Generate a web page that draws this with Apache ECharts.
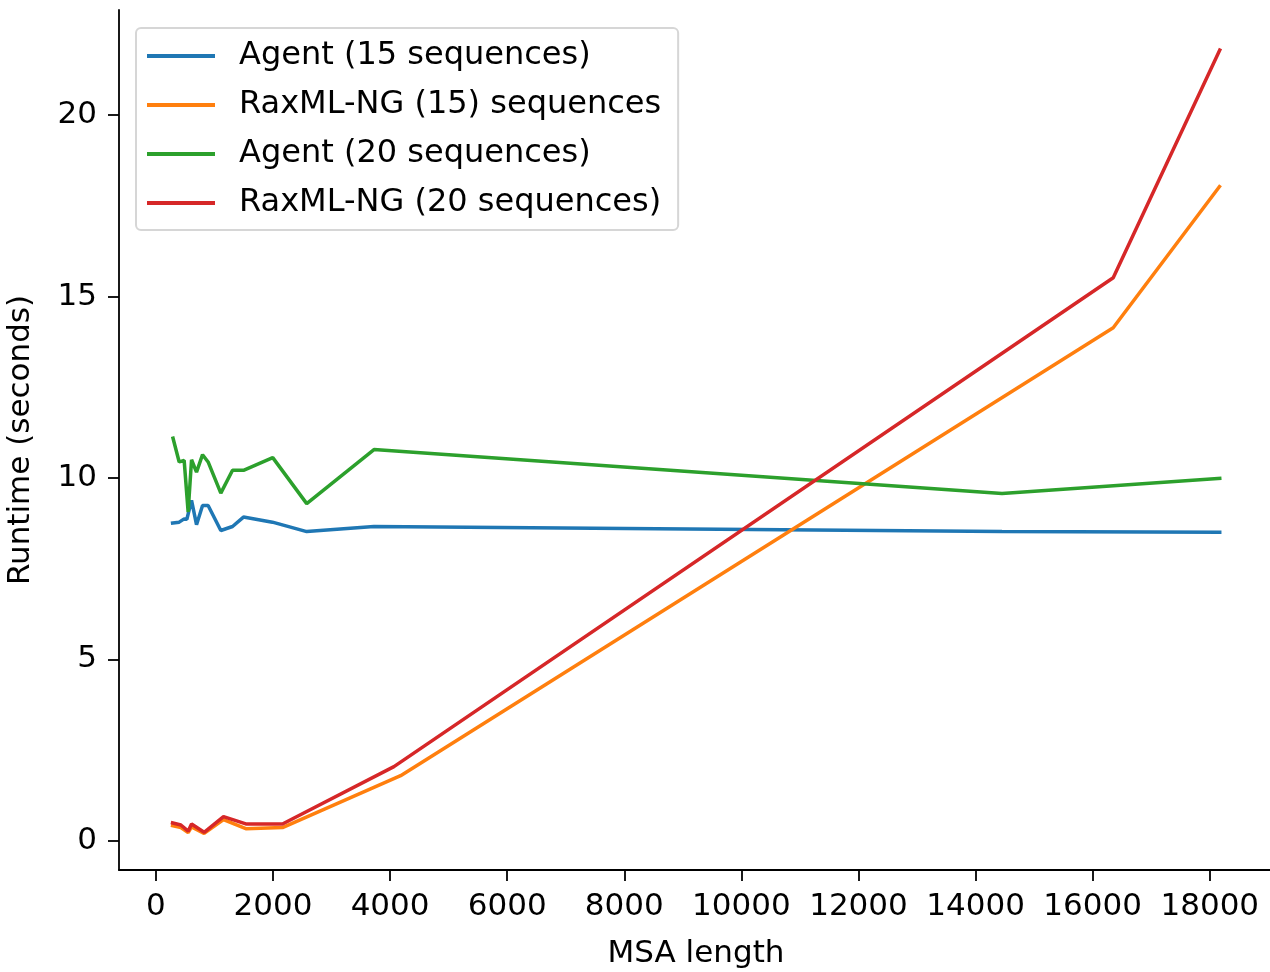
<!DOCTYPE html>
<html>
<head>
<meta charset="utf-8">
<script src="https://cdn.jsdelivr.net/npm/echarts@6/dist/echarts.min.js"></script>
<style>
  html, body { margin: 0; padding: 0; background: #fff; }
  #chart { width: 1270px; height: 972px; }
</style>
</head>
<body>
<div id="chart"></div>
<script>
// MSA length values (x) and runtimes (y)
var agent15X = [256, 398, 483, 529, 609, 694, 797, 892, 1109, 1309, 1496, 1991, 2576, 3725, 14452, 18200];
var agent15Y = [8.75, 8.78, 8.87, 8.86, 9.38, 8.71, 9.24, 9.24, 8.55, 8.66, 8.92, 8.78, 8.52, 8.66, 8.52, 8.50];

var rax15X = [256, 427, 551, 609, 824, 1155, 1536, 2162, 4180, 16351, 18183];
var rax15Y = [0.42, 0.36, 0.22, 0.38, 0.20, 0.58, 0.33, 0.36, 1.79, 14.14, 18.07];

var agent20X = [285, 398, 483, 551, 609, 694, 797, 892, 1109, 1309, 1496, 1996, 2576, 3725, 14452, 18200];
var agent20Y = [11.14, 10.44, 10.48, 9.06, 10.50, 10.16, 10.64, 10.44, 9.58, 10.21, 10.21, 10.56, 9.29, 10.78, 9.57, 9.99];

var rax20X = [256, 427, 551, 609, 824, 1155, 1536, 2162, 4066, 16351, 18183];
var rax20Y = [0.50, 0.43, 0.26, 0.46, 0.23, 0.66, 0.46, 0.46, 2.04, 15.52, 21.84];

var seriesNames = ['Agent (15 sequences)', 'RaxML-NG (15) sequences', 'Agent (20 sequences)', 'RaxML-NG (20 sequences)'];
var xTicks = [0, 2000, 4000, 6000, 8000, 10000, 12000, 14000, 16000, 18000];
var yTicks = [0, 5, 10, 15, 20];

function pairs(xs, ys) {
  return xs.map(function (x, i) { return [x, ys[i]]; });
}

var font = 'DejaVu Sans';
var colors = ['#1f77b4', '#ff7f0e', '#2ca02c', '#d62728'];
var data = [pairs(agent15X, agent15Y), pairs(rax15X, rax15Y), pairs(agent20X, agent20Y), pairs(rax20X, rax20Y)];

var chart = echarts.init(document.getElementById('chart'));
chart.setOption({
  animation: false,
  backgroundColor: '#fff',
  grid: { left: 119, top: 10, width: 1154, height: 860, outerBoundsMode: 'none' },
  legend: {
    orient: 'vertical',
    left: 136,
    top: 28,
    data: seriesNames,
    icon: 'rect',
    itemWidth: 68,
    itemHeight: 4,
    itemGap: 17,
    padding: [12, 17, 11, 11],
    backgroundColor: '#fff',
    borderColor: '#d6d6d6',
    borderWidth: 2,
    borderRadius: 5,
    textStyle: { fontFamily: font, fontSize: 32, color: '#000', padding: [0, 0, 0, 19] }
  },
  xAxis: {
    type: 'value',
    min: -630,
    max: 19080,
    name: 'MSA length',
    nameLocation: 'middle',
    nameGap: 68,
    nameTextStyle: { fontFamily: font, fontSize: 31, color: '#000' },
    splitLine: { show: false },
    axisLine: { show: true, onZero: false, lineStyle: { color: '#000', width: 1.8 } },
    axisTick: { show: true, length: 11, customValues: xTicks, lineStyle: { color: '#000', width: 1.8 } },
    axisLabel: {
      customValues: xTicks, fontFamily: font, fontSize: 31, color: '#000', margin: 21,
      formatter: function (v) { return String(v); }
    }
  },
  yAxis: {
    type: 'value',
    min: -0.81,
    max: 22.9,
    name: 'Runtime (seconds)',
    nameLocation: 'middle',
    nameGap: 83,
    nameTextStyle: { fontFamily: font, fontSize: 31, color: '#000' },
    splitLine: { show: false },
    axisLine: { show: true, onZero: false, lineStyle: { color: '#000', width: 1.8 } },
    axisTick: { show: true, length: 11, customValues: yTicks, lineStyle: { color: '#000', width: 1.8 } },
    axisLabel: {
      customValues: yTicks, fontFamily: font, fontSize: 31, color: '#000', margin: 22,
      formatter: function (v) { return String(v); }
    }
  },
  series: seriesNames.map(function (name, i) {
    return {
      name: name,
      type: 'line',
      data: data[i],
      symbol: 'none',
      color: colors[i],
      lineStyle: { width: 3.5, color: colors[i] }
    };
  })
});
</script>
</body>
</html>
